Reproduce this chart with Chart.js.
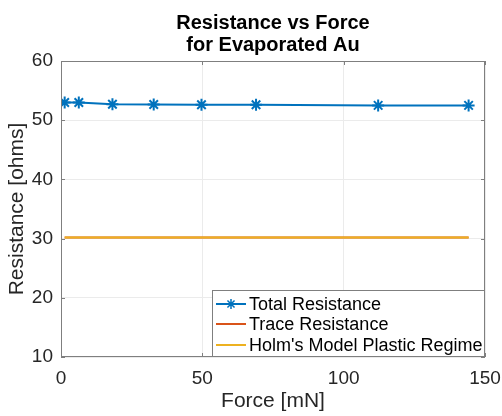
<!DOCTYPE html>
<html>
<head>
<meta charset="utf-8">
<script src="https://cdn.jsdelivr.net/npm/chart.js@4/dist/chart.umd.min.js"></script>
<style>
  html, body { margin: 0; padding: 0; background: #fff; }
  #wrap { width: 502px; height: 416px; }
</style>
</head>
<body>
<div id="wrap"><canvas id="c" width="502" height="416"></canvas></div>
<script>
// ---- data ----
const forceValues = [1.3, 6.3, 18.2, 32.8, 49.7, 69, 112.2, 144.2];
const totalResistance = [53.0, 53.0, 52.7, 52.65, 52.6, 52.6, 52.5, 52.5];
const traceResistance = [30.2, 30.2, 30.2, 30.2, 30.2, 30.2, 30.2, 30.2];
const holmResistance = [30.2, 30.2, 30.2, 30.2, 30.2, 30.2, 30.2, 30.2];
const seriesNames = ['Total Resistance', 'Trace Resistance', "Holm's Model Plastic Regime"];
const xTicks = [0, 50, 100, 150];
const yTicks = [10, 20, 30, 40, 50, 60];
const titleLines = ['Resistance vs Force', 'for Evaporated Au'];
const xTitle = 'Force [mN]';
const yTitle = 'Resistance [ohms]';

const FONT = "'Liberation Sans', Arial, Helvetica, sans-serif";
const COLORS = ['#0072BD', '#D95319', '#EDB120'];

function pts(ys) { return forceValues.map((x, i) => ({ x: x, y: ys[i] })); }

const boxPlugin = {
  id: 'boxPlugin',
  afterDatasetsDraw(chart) {
    const { ctx, chartArea: a, scales } = chart;
    ctx.save();
    ctx.strokeStyle = '#7f7f7f';
    ctx.lineWidth = 1;
    ctx.strokeRect(Math.round(a.left) + 0.5, Math.round(a.top) + 0.5,
                   Math.round(a.right - a.left) - 1, Math.round(a.bottom - a.top) - 1);
    ctx.beginPath();
    const tl = 4;
    xTicks.forEach(v => {
      const px = Math.round(scales.x.getPixelForValue(v)) + 0.5;
      ctx.moveTo(px, a.bottom); ctx.lineTo(px, a.bottom - tl);
      ctx.moveTo(px, a.top); ctx.lineTo(px, a.top + tl);
    });
    yTicks.forEach(v => {
      const py = Math.round(scales.y.getPixelForValue(v)) + 0.5;
      ctx.moveTo(a.left, py); ctx.lineTo(a.left + tl, py);
      ctx.moveTo(a.right, py); ctx.lineTo(a.right - tl, py);
    });
    ctx.stroke();
    ctx.restore();
  },
  afterDraw(chart) {
    const { ctx, chartArea: a } = chart;
    // legend in lower-right corner of the axes
    const lx = 212, lw = a.right - lx, lh = 67, ly = a.bottom - lh;
    ctx.save();
    ctx.fillStyle = '#ffffff';
    ctx.fillRect(lx, ly, lw, lh);
    ctx.strokeStyle = '#7f7f7f';
    ctx.lineWidth = 1;
    ctx.strokeRect(lx + 0.5, ly + 0.5, lw - 1, lh - 1);
    ctx.font = '18px ' + FONT;
    ctx.textBaseline = 'middle';
    ctx.textAlign = 'left';
    const rowY = [ly + 14, ly + 34, ly + 55];
    seriesNames.forEach((name, i) => {
      const y = rowY[i];
      ctx.strokeStyle = COLORS[i];
      ctx.lineWidth = 2;
      ctx.beginPath();
      ctx.moveTo(lx + 4, y); ctx.lineTo(lx + 34, y);
      ctx.stroke();
      if (i === 0) {
        ctx.lineWidth = 1.5;
        const r = 5, cx = lx + 19;
        ctx.beginPath();
        ctx.moveTo(cx - r, y); ctx.lineTo(cx + r, y);
        ctx.moveTo(cx, y - r); ctx.lineTo(cx, y + r);
        const d = r * 0.707;
        ctx.moveTo(cx - d, y - d); ctx.lineTo(cx + d, y + d);
        ctx.moveTo(cx - d, y + d); ctx.lineTo(cx + d, y - d);
        ctx.stroke();
      }
      ctx.fillStyle = '#000000';
      ctx.fillText(name, lx + 37, y + 1);
    });
    ctx.restore();
  }
};

new Chart(document.getElementById('c'), {
  type: 'line',
  data: {
    datasets: [
      { label: seriesNames[0], data: pts(totalResistance), borderColor: COLORS[0], backgroundColor: COLORS[0],
        borderWidth: 2, pointStyle: 'star', pointRadius: 6, pointBorderWidth: 2, pointBorderColor: COLORS[0], tension: 0 },
      { label: seriesNames[1], data: pts(traceResistance), borderColor: COLORS[1], backgroundColor: COLORS[1],
        borderWidth: 2, pointRadius: 0, tension: 0 },
      { label: seriesNames[2], data: pts(holmResistance), borderColor: COLORS[2], backgroundColor: COLORS[2],
        borderWidth: 2, pointRadius: 0, tension: 0 }
    ].map((d, i) => Object.assign(d, { order: 3 - i }))
  },
  options: {
    responsive: false,
    animation: false,
    layout: { padding: { left: 0, right: 17, top: 0, bottom: 0 } },
    plugins: {
      legend: { display: false },
      tooltip: { enabled: false },
      title: {
        display: true, text: titleLines, fullSize: false, color: '#000000',
        font: { family: FONT, size: 20, weight: 'bold', lineHeight: 1.1 },
        padding: { top: 12, bottom: 5 }
      }
    },
    scales: {
      x: {
        type: 'linear', min: 0, max: 150,
        afterFit(s) { s.height = 59; s.paddingLeft = 0; s.paddingRight = 0; },
        afterBuildTicks(s) { s.ticks = xTicks.map(v => ({ value: v })); },
        ticks: { color: '#262626', font: { family: FONT, size: 19 }, padding: 10, maxRotation: 0 },
        grid: { color: '#ebebeb', drawTicks: false, lineWidth: 1 },
        border: { display: false },
        title: { display: true, text: xTitle, color: '#262626', font: { family: FONT, size: 21 }, padding: { top: 0, bottom: 2 } }
      },
      y: {
        type: 'linear', min: 10, max: 60,
        afterFit(s) { s.width = 61; s.paddingTop = 0; s.paddingBottom = 0; },
        afterBuildTicks(s) { s.ticks = yTicks.map(v => ({ value: v })); },
        ticks: { color: '#262626', font: { family: FONT, size: 19 }, padding: 8 },
        grid: { color: '#ebebeb', drawTicks: false, lineWidth: 1 },
        border: { display: false },
        title: { display: true, text: yTitle, color: '#262626', font: { family: FONT, size: 21 }, padding: { top: 5, bottom: 0 } }
      }
    }
  },
  plugins: [boxPlugin]
});
</script>
</body>
</html>
